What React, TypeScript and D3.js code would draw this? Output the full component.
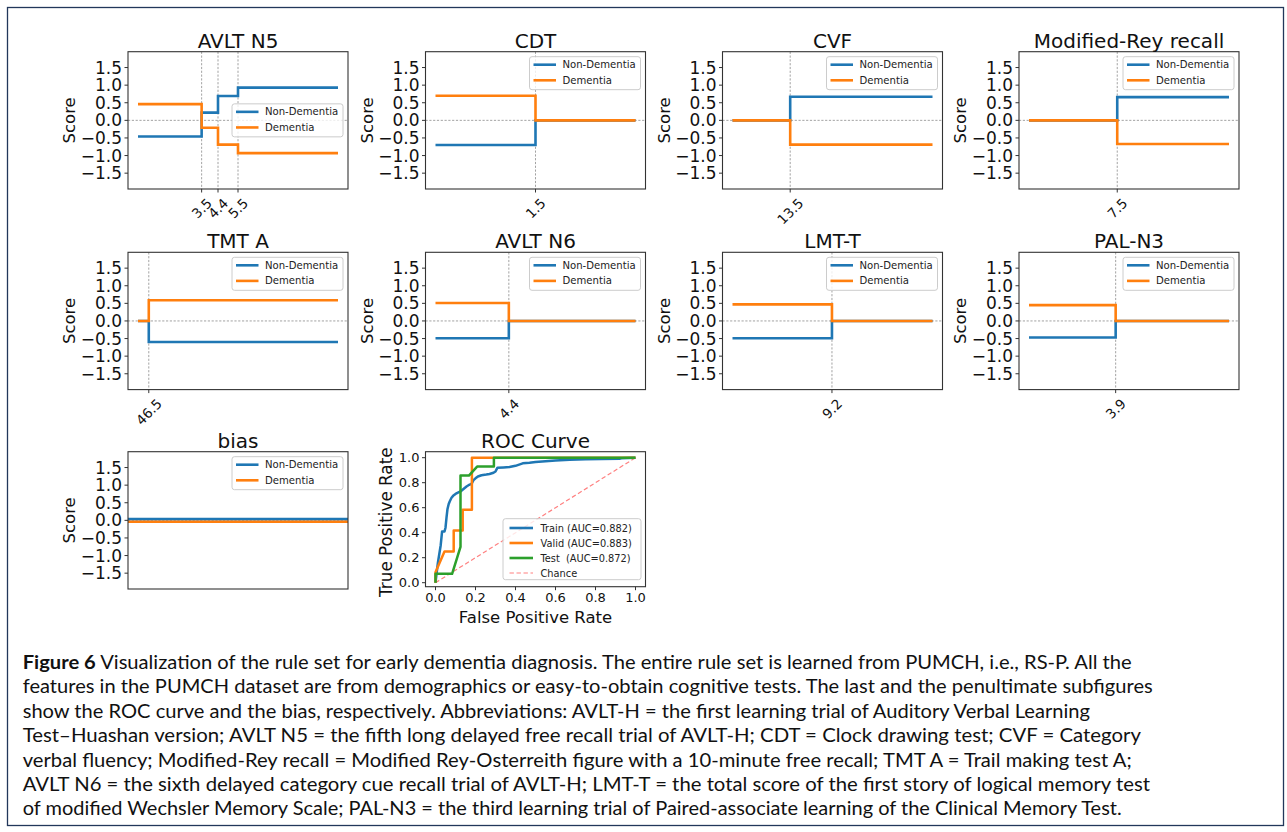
import React from "react";
import * as d3 from "d3";

const BLUE = "#1f77b4";
const ORANGE = "#ff7f0e";
const GREEN = "#2ca02c";
const FONT = "DejaVu Sans";

// ---------- score panels data ----------
const panelTitles = ["AVLT N5", "CDT", "CVF", "Modified-Rey recall", "TMT A", "AVLT N6", "LMT-T", "PAL-N3", "bias"];

const avltN5Cuts = [3.5, 4.4, 5.5];
const avltN5CutLabels = ["3.5", "4.4", "5.5"];
const avltN5NonDementia = [-0.46, 0.22, 0.69, 0.93];
const avltN5Dementia = [0.46, -0.21, -0.69, -0.93];
const avltN5Range = [0, 11];

const cdtCuts = [1.5];
const cdtCutLabels = ["1.5"];
const cdtNonDementia = [-0.7, 0];
const cdtDementia = [0.7, 0];
const cdtRange = [0, 3];

const cvfCuts = [13.5];
const cvfCutLabels = ["13.5"];
const cvfNonDementia = [0, 0.67];
const cvfDementia = [0, -0.69];
const cvfRange = [6, 32];

const reyCuts = [7.5];
const reyCutLabels = ["7.5"];
const reyNonDementia = [0, 0.66];
const reyDementia = [0, -0.67];
const reyRange = [0, 17];

const tmtCuts = [46.5];
const tmtCutLabels = ["46.5"];
const tmtNonDementia = [0, -0.6];
const tmtDementia = [0, 0.59];
const tmtRange = [41, 143];

const n6Cuts = [4.4];
const n6CutLabels = ["4.4"];
const n6NonDementia = [-0.49, 0];
const n6Dementia = [0.51, 0];
const n6Range = [0, 12];

const lmtCuts = [9.2];
const lmtCutLabels = ["9.2"];
const lmtNonDementia = [-0.49, 0];
const lmtDementia = [0.47, 0];
const lmtRange = [0, 18.5];

const palCuts = [3.9];
const palCutLabels = ["3.9"];
const palNonDementia = [-0.47, 0];
const palDementia = [0.45, 0];
const palRange = [0, 9];

const biasCuts: number[] = [];
const biasCutLabels: string[] = [];
const biasNonDementia = [0.035];
const biasDementia = [-0.04];
const biasRange = [0, 1];

const scoreTicks = [-1.5, -1.0, -0.5, 0.0, 0.5, 1.0, 1.5];
const legendLabels = ["Non-Dementia", "Dementia"];

// ---------- ROC data ----------
const trainFpr = [0, 0.006, 0.012, 0.02, 0.026, 0.033, 0.045, 0.05, 0.055, 0.06, 0.066, 0.071, 0.08, 0.088, 0.1, 0.112, 0.125, 0.14, 0.155, 0.165, 0.18, 0.19, 0.2, 0.212, 0.23, 0.254, 0.27, 0.29, 0.3, 0.31, 0.34, 0.37, 0.4, 0.436, 0.47, 0.5, 0.55, 0.6, 0.67, 0.75, 0.83, 0.92, 0.93, 1.0];
const trainTpr = [0, 0.08, 0.16, 0.24, 0.3, 0.41, 0.41, 0.44, 0.52, 0.59, 0.63, 0.65, 0.68, 0.695, 0.71, 0.72, 0.73, 0.75, 0.77, 0.78, 0.79, 0.82, 0.835, 0.85, 0.86, 0.865, 0.87, 0.88, 0.89, 0.92, 0.922, 0.925, 0.935, 0.955, 0.96, 0.966, 0.972, 0.978, 0.984, 0.988, 0.99, 0.992, 0.995, 1.0];
const validFpr = [0, 0, 0.045, 0.091, 0.091, 0.136, 0.136, 0.182, 0.182, 1.0];
const validTpr = [0, 0.083, 0.25, 0.25, 0.417, 0.417, 0.583, 0.583, 1.0, 1.0];
const testFpr = [0, 0, 0.083, 0.125, 0.125, 0.167, 0.208, 0.292, 0.292, 1.0];
const testTpr = [0, 0.071, 0.071, 0.286, 0.857, 0.857, 0.929, 0.929, 1.0, 1.0];
const rocTicks = [0.0, 0.2, 0.4, 0.6, 0.8, 1.0];
const rocLegendLabels = ["Train (AUC=0.882)", "Valid (AUC=0.883)", "Test  (AUC=0.872)", "Chance"];

// ---------- caption ----------
const captionBold = "Figure 6";
const captionLines = [
  " Visualization of the rule set for early dementia diagnosis. The entire rule set is learned from PUMCH, i.e., RS-P. All the",
  "features in the PUMCH dataset are from demographics or easy-to-obtain cognitive tests. The last and the penultimate subfigures",
  "show the ROC curve and the bias, respectively. Abbreviations: AVLT-H = the first learning trial of Auditory Verbal Learning",
  "Test\u2013Huashan version; AVLT N5 = the fifth long delayed free recall trial of AVLT-H; CDT = Clock drawing test; CVF = Category",
  "verbal fluency; Modified-Rey recall = Modified Rey-Osterreith figure with a 10-minute free recall; TMT A = Trail making test A;",
  "AVLT N6 = the sixth delayed category cue recall trial of AVLT-H; LMT-T = the total score of the first story of logical memory test",
  "of modified Wechsler Memory Scale; PAL-N3 = the third learning trial of Paired-associate learning of the Clinical Memory Test.",
];
const captionLineEnds = [1131.7, 1152.7, 1090, 1141, 1131.7, 1150, 1121.7];

// ---------- layout ----------
const colLeft = [128, 425.5, 722.5, 1019];
const rowTop = [51.7, 252.3, 451.7];
const AX_W = 220;
const AX_H = 137.3;
const SPINE = "#333333";
const fmt1 = d3.format(".1f");

function digitWidth(s: string, fs: number) {
  let w = 0;
  for (const ch of s) w += ch === "." ? 0.318 : 0.636;
  return w * fs;
}

type PanelProps = {
  idx: number;
  title: string;
  cuts: number[];
  cutLabels: string[];
  non: number[];
  dem: number[];
  range: number[];
  legendPos: "upper right" | "center right";
  full?: boolean;
};

function Legend({ bx, by }: { bx: number; by: number }) {
  const w = 111, h = 33;
  return (
    <g>
      <rect x={bx} y={by} width={w} height={h} rx={2.5} fill="white" fillOpacity={0.8} stroke="#cccccc" strokeWidth={1} />
      {legendLabels.map((lab, i) => {
        const yy = by + 8 + i * 15.6;
        return (
          <g key={lab}>
            <line x1={bx + 4} x2={bx + 26.5} y1={yy} y2={yy} stroke={i === 0 ? BLUE : ORANGE} strokeWidth={2.6} />
            <text x={bx + 33} y={yy} dominantBaseline="central" fontFamily={FONT} fontSize={10.1} fill="#222">{lab}</text>
          </g>
        );
      })}
    </g>
  );
}

function ScorePanel(p: PanelProps) {
  const col = p.idx % 4;
  const row = Math.floor(p.idx / 4);
  const x0 = colLeft[col];
  const y0 = rowTop[row];
  const span = p.range[1] - p.range[0];
  const x = d3
    .scaleLinear()
    .domain(p.full ? p.range : [p.range[0] - 0.05 * span, p.range[1] + 0.05 * span])
    .range([x0, x0 + AX_W]);
  const y = d3.scaleLinear().domain([-1.95, 1.95]).range([y0 + AX_H, y0]);
  const mk = (vals: number[]) => {
    const pts: [number, number][] = [[p.range[0], vals[0]]];
    p.cuts.forEach((c, i) => pts.push([c, vals[i + 1]]));
    pts.push([p.range[1], vals[vals.length - 1]]);
    return pts;
  };
  const line = d3
    .line<[number, number]>()
    .x((d) => x(d[0]))
    .y((d) => y(d[1]))
    .curve(d3.curveStepAfter);
  const bottom = y0 + AX_H;
  const legBx = x0 + AX_W - 5 - 111;
  const legBy = p.legendPos === "upper right" ? y0 + 5 : y0 + AX_H / 2 - 16.5;
  const xfs = 13.5;
  return (
    <g>
      <rect x={x0} y={y0} width={AX_W} height={AX_H} fill="white" />
      <line x1={x0} x2={x0 + AX_W} y1={y(0)} y2={y(0)} stroke="#8c8c8c" strokeWidth={0.8} strokeDasharray="2.2,1.6" />
      {p.cuts.map((c) => (
        <line key={c} x1={x(c)} x2={x(c)} y1={y0} y2={bottom} stroke="#8c8c8c" strokeWidth={0.8} strokeDasharray="2.2,1.6" />
      ))}
      <path d={line(mk(p.non)) || ""} fill="none" stroke={BLUE} strokeWidth={2.6} />
      <path d={line(mk(p.dem)) || ""} fill="none" stroke={ORANGE} strokeWidth={2.6} />
      <rect x={x0} y={y0} width={AX_W} height={AX_H} fill="none" stroke={SPINE} strokeWidth={1.1} />
      {scoreTicks.map((t) => (
        <g key={t}>
          <line x1={x0 - 3.5} x2={x0} y1={y(t)} y2={y(t)} stroke={SPINE} strokeWidth={1} />
          <text x={x0 - 6} y={y(t)} textAnchor="end" dominantBaseline="central" fontFamily={FONT} fontSize={17} fill="#111">
            {fmt1(t)}
          </text>
        </g>
      ))}
      {p.cuts.map((c, i) => {
        const lab = p.cutLabels[i];
        const w = digitWidth(lab, xfs);
        const h = 1.16 * xfs;
        const cy = bottom + 6 + (w + h) / (2 * Math.SQRT2);
        return (
          <g key={"t" + c}>
            <line x1={x(c)} x2={x(c)} y1={bottom} y2={bottom + 3.5} stroke={SPINE} strokeWidth={1} />
            <text
              transform={`translate(${x(c)},${cy}) rotate(-45)`}
              textAnchor="middle"
              dominantBaseline="central"
              fontFamily={FONT}
              fontSize={xfs}
              fill="#111"
            >
              {lab}
            </text>
          </g>
        );
      })}
      <text x={x0 + AX_W / 2} y={y0 - 4} textAnchor="middle" fontFamily={FONT} fontSize={20} fill="#111">
        {p.title}
      </text>
      <text
        transform={`translate(${x0 - 58.5},${y0 + AX_H / 2}) rotate(-90)`}
        textAnchor="middle"
        dominantBaseline="central"
        fontFamily={FONT}
        fontSize={16.5}
        fill="#111"
      >
        Score
      </text>
      <Legend bx={legBx} by={legBy} />
    </g>
  );
}

function RocPanel() {
  const x0 = colLeft[1];
  const y0 = rowTop[2];
  const yB = 586.7;
  const x = d3.scaleLinear().domain([-0.05, 1.05]).range([x0, x0 + AX_W]);
  const y = d3.scaleLinear().domain([-0.032, 1.048]).range([yB, y0]);
  const line = d3
    .line<[number, number]>()
    .x((d) => x(d[0]))
    .y((d) => y(d[1]));
  const zip = (a: number[], b: number[]) => a.map((v, i) => [v, b[i]] as [number, number]);
  const series = [
    { pts: zip(trainFpr, trainTpr), color: BLUE },
    { pts: zip(validFpr, validTpr), color: ORANGE },
    { pts: zip(testFpr, testTpr), color: GREEN },
  ];
  const lbx = x0 + AX_W - 4.5 - 138;
  const lby = yB - 7 - 61;
  const fs = 13;
  return (
    <g>
      <rect x={x0} y={y0} width={AX_W} height={yB - y0} fill="white" />
      <path d={line([[0, 0], [1, 1]]) || ""} stroke="#ff8080" strokeWidth={1.2} strokeDasharray="4.4,2.6" fill="none" />
      {series.map((s, i) => (
        <path key={i} d={line(s.pts) || ""} fill="none" stroke={s.color} strokeWidth={2.5} strokeLinejoin="round" />
      ))}
      <rect x={x0} y={y0} width={AX_W} height={yB - y0} fill="none" stroke={SPINE} strokeWidth={1.1} />
      {rocTicks.map((t) => (
        <g key={"x" + t}>
          <line x1={x(t)} x2={x(t)} y1={yB} y2={yB + 3.5} stroke={SPINE} strokeWidth={1} />
          <text x={x(t)} y={yB + 6} textAnchor="middle" dominantBaseline="hanging" fontFamily={FONT} fontSize={fs} fill="#111">
            {fmt1(t)}
          </text>
          <line x1={x0 - 3.5} x2={x0} y1={y(t)} y2={y(t)} stroke={SPINE} strokeWidth={1} />
          <text x={x0 - 6} y={y(t)} textAnchor="end" dominantBaseline="central" fontFamily={FONT} fontSize={fs} fill="#111">
            {fmt1(t)}
          </text>
        </g>
      ))}
      <text x={x0 + AX_W / 2} y={y0 - 4} textAnchor="middle" fontFamily={FONT} fontSize={20} fill="#111">
        ROC Curve
      </text>
      <text x={x0 + AX_W / 2} y={yB + 36} textAnchor="middle" fontFamily={FONT} fontSize={16.5} fill="#111">
        False Positive Rate
      </text>
      <text
        transform={`translate(${x0 - 40},${(y0 + yB) / 2 + 3}) rotate(-90)`}
        textAnchor="middle"
        dominantBaseline="central"
        fontFamily={FONT}
        fontSize={16.8}
        fill="#111"
      >
        True Positive Rate
      </text>
      <rect x={lbx} y={lby} width={138} height={61} rx={2.5} fill="white" fillOpacity={0.8} stroke="#cccccc" strokeWidth={1} />
      {rocLegendLabels.map((lab, i) => {
        const yy = lby + 9.3 + i * 15;
        const color = i === 0 ? BLUE : i === 1 ? ORANGE : i === 2 ? GREEN : "#ff8080";
        return (
          <g key={lab}>
            <line
              x1={lbx + 6.5}
              x2={lbx + 30}
              y1={yy}
              y2={yy}
              stroke={color}
              strokeWidth={i === 3 ? 1.2 : 2.6}
              strokeDasharray={i === 3 ? "4.4,2.6" : undefined}
            />
            <text x={lbx + 37.5} y={yy} dominantBaseline="central" fontFamily={FONT} fontSize={9.8} fill="#222" style={{ whiteSpace: "pre" }}>
              {lab}
            </text>
          </g>
        );
      })}
    </g>
  );
}

export default function App() {
  const panels: PanelProps[] = [
    { idx: 0, title: panelTitles[0], cuts: avltN5Cuts, cutLabels: avltN5CutLabels, non: avltN5NonDementia, dem: avltN5Dementia, range: avltN5Range, legendPos: "center right" },
    { idx: 1, title: panelTitles[1], cuts: cdtCuts, cutLabels: cdtCutLabels, non: cdtNonDementia, dem: cdtDementia, range: cdtRange, legendPos: "upper right" },
    { idx: 2, title: panelTitles[2], cuts: cvfCuts, cutLabels: cvfCutLabels, non: cvfNonDementia, dem: cvfDementia, range: cvfRange, legendPos: "upper right" },
    { idx: 3, title: panelTitles[3], cuts: reyCuts, cutLabels: reyCutLabels, non: reyNonDementia, dem: reyDementia, range: reyRange, legendPos: "upper right" },
    { idx: 4, title: panelTitles[4], cuts: tmtCuts, cutLabels: tmtCutLabels, non: tmtNonDementia, dem: tmtDementia, range: tmtRange, legendPos: "upper right" },
    { idx: 5, title: panelTitles[5], cuts: n6Cuts, cutLabels: n6CutLabels, non: n6NonDementia, dem: n6Dementia, range: n6Range, legendPos: "upper right" },
    { idx: 6, title: panelTitles[6], cuts: lmtCuts, cutLabels: lmtCutLabels, non: lmtNonDementia, dem: lmtDementia, range: lmtRange, legendPos: "upper right" },
    { idx: 7, title: panelTitles[7], cuts: palCuts, cutLabels: palCutLabels, non: palNonDementia, dem: palDementia, range: palRange, legendPos: "upper right" },
    { idx: 8, title: panelTitles[8], cuts: biasCuts, cutLabels: biasCutLabels, non: biasNonDementia, dem: biasDementia, range: biasRange, legendPos: "upper right", full: true },
  ];
  const capX = 22.7;
  const capBase0 = 669;
  const capStep = 24.4;
  return (
    <svg
      width={1287}
      height={832}
      viewBox="0 0 1287 832"
      style={{ position: "absolute", left: 0, top: 0, background: "white" }}
    >
      <rect x={0} y={0} width={1287} height={832} fill="white" />
      <rect x={7.5} y={7.5} width={1276} height={818} fill="none" stroke="#22375a" strokeWidth={1.3} />
      {panels.map((p) => (
        <ScorePanel key={p.idx} {...p} />
      ))}
      <RocPanel />
      {captionLines.map((ln, i) => (
        <text
          key={i}
          x={capX}
          y={capBase0 + i * capStep}
          fontFamily="Lato"
          fontSize={18.5}
          fill="#111"
          textLength={captionLineEnds[i] - capX}
          lengthAdjust="spacingAndGlyphs"
          style={{ whiteSpace: "pre" }}
        >
          {i === 0 ? <tspan fontWeight="bold">{captionBold}</tspan> : null}
          {ln}
        </text>
      ))}
    </svg>
  );
}
